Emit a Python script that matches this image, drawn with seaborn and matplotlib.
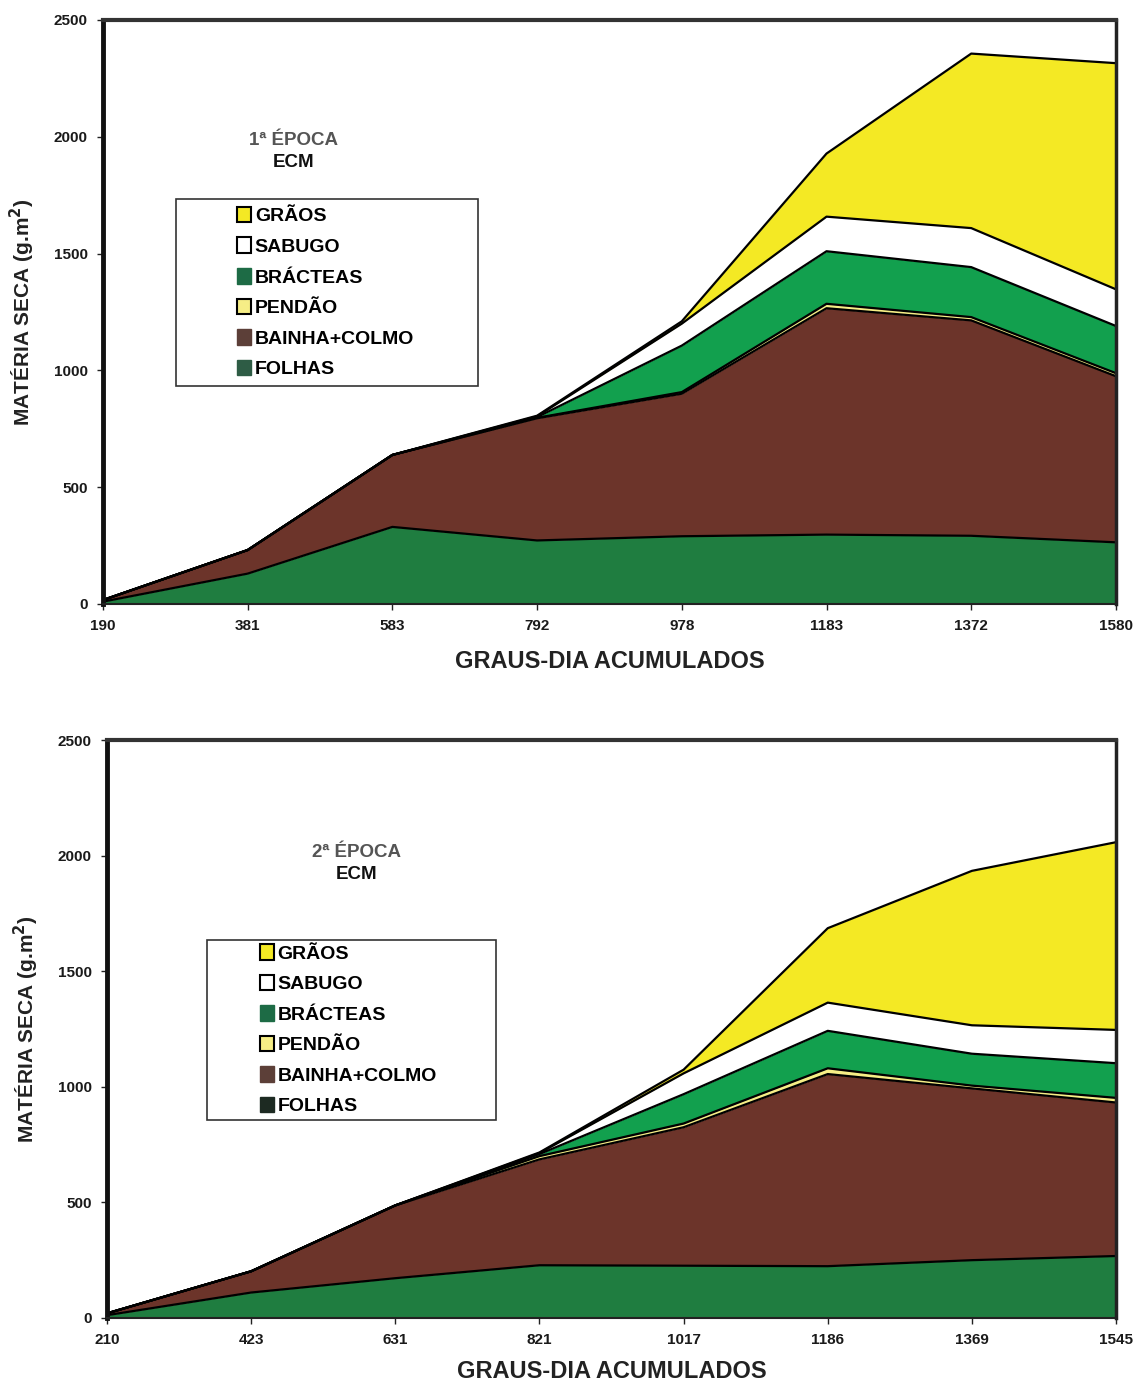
import numpy as np
import pandas as pd
import matplotlib
matplotlib.use("Agg")
import matplotlib.pyplot as plt
from matplotlib.patches import Patch, Rectangle
import seaborn as sns

# graus-dia acumulados (tick labels, equally spaced categories)
gd_1 = ["190", "381", "583", "792", "978", "1183", "1372", "1580"]
gd_2 = ["210", "423", "631", "821", "1017", "1186", "1369", "1545"]

# materia seca (g/m2) per component, 1a epoca
folhas_1 = [10, 130, 330, 272, 290, 297, 292, 264]
bainha_1 = [7, 101, 308, 523, 610, 969, 922, 711]
pendao_1 = [0, 0, 0, 2, 7, 19, 14, 13]
bracteas_1 = [0, 0, 0, 3, 199, 225, 214, 202]
sabugo_1 = [0, 0, 0, 3, 94, 148, 167, 157]
graos_1 = [0, 0, 0, 3, 10, 270, 747, 968]

# 2a epoca
folhas_2 = [12, 110, 172, 228, 226, 224, 250, 268]
bainha_2 = [8, 92, 315, 458, 599, 831, 743, 664]
pendao_2 = [0, 0, 0, 14, 16, 25, 12, 20]
bracteas_2 = [0, 0, 0, 9, 127, 162, 138, 150]
sabugo_2 = [0, 0, 0, 4, 90, 122, 123, 144]
graos_2 = [0, 0, 0, 3, 16, 322, 668, 812]

layers = ["FOLHAS", "BAINHA+COLMO", "PENDÃO", "BRÁCTEAS", "SABUGO", "GRÃOS"]
fills = ["#1f7d40", "#6c342a", "#f6ee86", "#12a04e", "#ffffff", "#f4e924"]

sns.set_style("white")
plt.rcParams["font.family"] = ["Liberation Sans", "DejaVu Sans"]
plt.rcParams["font.weight"] = "bold"
plt.rcParams["text.color"] = "#111"
plt.rcParams["axes.labelcolor"] = "#222"

fig = plt.figure(figsize=(11.35, 13.85), dpi=100)
ax1 = fig.add_axes([0.0907, 0.5639, 0.8925, 0.4217])
ax2 = fig.add_axes([0.0943, 0.0484, 0.8890, 0.4173])


def draw_panel(ax, ticks, comps, epoca, legend_box, leg_dx, folhas_key, text_xy, xlab_pad):
    df = pd.DataFrame(dict(zip(layers, comps)))
    df["pos"] = np.arange(len(ticks))
    cum = df[layers].cumsum(axis=1)
    lower = np.zeros(len(df))
    for name, col in zip(layers, fills):
        ax.fill_between(df["pos"], lower, cum[name], color=col, lw=0)
        lower = cum[name].values
    for name in layers:
        sns.lineplot(x=df["pos"], y=cum[name], color="black", lw=1.6, ax=ax)

    ax.set_xlim(0, len(ticks) - 1)
    ax.set_ylim(0, 2500)
    ax.set_xticks(df["pos"])
    ax.set_xticklabels(ticks, fontsize=11, fontweight="bold")
    ax.set_yticks(range(0, 2501, 500))
    ax.set_yticklabels([str(v) for v in range(0, 2501, 500)], fontsize=11, fontweight="bold")
    ax.tick_params(axis="both", direction="out", length=4, width=1, colors="#222",
                   labelcolor="#1a1a1a", bottom=True, left=True, pad=7)
    ax.set_xlabel("GRAUS-DIA ACUMULADOS", fontsize=17, fontweight="bold", labelpad=xlab_pad)
    ax.set_ylabel("MATÉRIA SECA (g.m$^{\\mathbf{2}}$)", fontsize=15, fontweight="bold", labelpad=12)
    ax.spines["left"].set_linewidth(3.5)
    ax.spines["left"].set_color("#111")
    ax.spines["top"].set_linewidth(3)
    ax.spines["top"].set_color("#333")
    ax.spines["right"].set_linewidth(2.5)
    ax.spines["right"].set_color("#222")
    ax.spines["bottom"].set_linewidth(1.5)
    ax.spines["bottom"].set_color("#222")

    ax.text(text_xy[0], text_xy[1], epoca, transform=ax.transAxes, ha="center", va="center",
            fontsize=13.5, fontweight="bold", color="#555")
    ax.text(text_xy[0], text_xy[1] - 0.037, "ECM", transform=ax.transAxes, ha="center",
            va="center", fontsize=13.5, fontweight="bold", color="#111")

    x0, y0, x1, y1 = legend_box
    ax.add_patch(Rectangle((x0, y0), x1 - x0, y1 - y0, transform=ax.transAxes, fill=True,
                           facecolor="white", edgecolor="#333", lw=1.2, zorder=5))
    handles = [
        Patch(facecolor="#f4e924", edgecolor="black", lw=1.5, label="GRÃOS"),
        Patch(facecolor="white", edgecolor="black", lw=1.5, label="SABUGO"),
        Patch(facecolor="#1d6b45", edgecolor="#1d6b45", label="BRÁCTEAS"),
        Patch(facecolor="#f6ee86", edgecolor="black", lw=1.5, label="PENDÃO"),
        Patch(facecolor="#5c3f38", edgecolor="#5c3f38", label="BAINHA+COLMO"),
        Patch(facecolor=folhas_key, edgecolor=folhas_key, label="FOLHAS"),
    ]
    leg = ax.legend(handles=handles, loc="center left",
                    bbox_to_anchor=(x0 + leg_dx, (y0 + y1) / 2),
                    frameon=False, handlelength=0.7, handleheight=0.85, handletextpad=0.2,
                    labelspacing=0.62, borderpad=0, prop={"size": 14, "weight": "bold"})
    for t in leg.get_texts():
        t.set_color("black")
    leg.set_zorder(6)


draw_panel(ax1, gd_1, [folhas_1, bainha_1, pendao_1, bracteas_1, sabugo_1, graos_1],
           "1ª ÉPOCA", (0.072, 0.373, 0.370, 0.6935), 0.051, "#2e5c45", (0.188, 0.793), 12)
draw_panel(ax2, gd_2, [folhas_2, bainha_2, pendao_2, bracteas_2, sabugo_2, graos_2],
           "2ª ÉPOCA", (0.099, 0.343, 0.3855, 0.654), 0.043, "#1d2a22", (0.247, 0.805), 9)

fig.savefig("out.png", dpi=100)
